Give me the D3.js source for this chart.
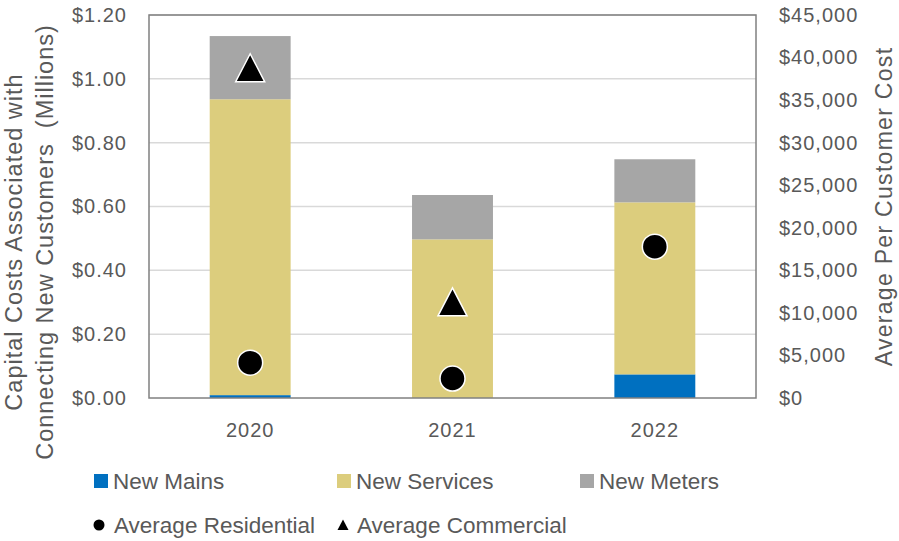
<!DOCTYPE html>
<html>
<head>
<meta charset="utf-8">
<script src="https://cdn.jsdelivr.net/npm/d3@7"></script>
<style>
  html, body { margin: 0; padding: 0; background: #fff; }
  svg { display: block; font-family: "Liberation Sans", Arial, sans-serif; }
  .tick text { fill: #595959; }
</style>
</head>
<body>
<svg id="chart" width="899" height="541"></svg>
<script>
// chart data
const years = ['2020', '2021', '2022'];
const newMains = [0.009, 0, 0.074];
const newServices = [0.927, 0.497, 0.539];
const newMeters = [0.198, 0.139, 0.135];
const avgResidential = [4150, 2290, 17780];
const avgCommercial = [38800, 11300, null];
const leftTicks = [0, 0.2, 0.4, 0.6, 0.8, 1.0, 1.2];
const rightTicks = [0, 5000, 10000, 15000, 20000, 25000, 30000, 35000, 40000, 45000];

const seriesNames = ['New Mains', 'New Services', 'New Meters'];
const seriesColors = ['#0070c0', '#dccd7d', '#a6a6a6'];
const textColor = '#595959';

const margin = {top: 15, right: 143, bottom: 143, left: 149};
const width = 899, height = 541;
const innerW = width - margin.left - margin.right;
const innerH = height - margin.top - margin.bottom;

const svg = d3.select('#chart');
const g = svg.append('g').attr('transform', `translate(${margin.left},${margin.top})`);

const x = d3.scaleBand().domain(years).range([0, innerW])
  .paddingInner(0.6).paddingOuter(0.3);
const y = d3.scaleLinear().domain([0, 1.2]).range([innerH, 0]);
const y2 = d3.scaleLinear().domain([0, 45000]).range([innerH, 0]);

// gridlines
g.append('g').selectAll('line').data(leftTicks.slice(1)).enter()
  .append('line')
  .attr('x1', 0).attr('x2', innerW)
  .attr('y1', d => y(d)).attr('y2', d => y(d))
  .attr('stroke', '#d9d9d9').attr('stroke-width', 1.5);

// stacked bars
const rows = years.map((yr, i) => ({year: yr, 'New Mains': newMains[i],
  'New Services': newServices[i], 'New Meters': newMeters[i]}));
const stack = d3.stack().keys(seriesNames)(rows);
g.append('g').selectAll('g').data(stack).enter()
  .append('g').attr('fill', (d, i) => seriesColors[i])
  .selectAll('rect').data(d => d).enter()
  .append('rect')
  .attr('x', d => x(d.data.year))
  .attr('width', x.bandwidth())
  .attr('y', d => y(d[1]))
  .attr('height', d => Math.max(0, y(d[0]) - y(d[1])));

// plot frame
g.append('rect')
  .attr('width', innerW).attr('height', innerH)
  .attr('fill', 'none').attr('stroke', '#808080').attr('stroke-width', 1.5);

// markers
const triW = 29, triH = 28;
const triPath = d3.line()([[0, -triH / 2], [triW / 2, triH / 2], [-triW / 2, triH / 2]]) + 'Z';
const cx = i => x(years[i]) + x.bandwidth() / 2;

g.append('g').selectAll('path').data(avgCommercial.map((v, i) => ({v, i})).filter(d => d.v != null))
  .enter().append('path')
  .attr('d', triPath)
  .attr('transform', d => `translate(${cx(d.i)},${y2(d.v)})`)
  .attr('fill', '#000').attr('stroke', '#fff').attr('stroke-width', 1.5)
  .attr('stroke-linejoin', 'miter');

g.append('g').selectAll('circle').data(avgResidential.map((v, i) => ({v, i})))
  .enter().append('circle')
  .attr('cx', d => cx(d.i)).attr('cy', d => y2(d.v)).attr('r', 12.5)
  .attr('fill', '#000').attr('stroke', '#fff').attr('stroke-width', 1.5);

// axes
const leftAxis = g.append('g')
  .call(d3.axisLeft(y).tickValues(leftTicks).tickSize(0).tickPadding(22)
    .tickFormat(d => '$' + d3.format('.2f')(d)));
const rightAxis = g.append('g').attr('transform', `translate(${innerW},0)`)
  .call(d3.axisRight(y2).tickValues(rightTicks).tickSize(0).tickPadding(23)
    .tickFormat(d => '$' + d3.format(',')(d)));
const bottomAxis = g.append('g').attr('transform', `translate(0,${innerH})`)
  .call(d3.axisBottom(x).tickSize(0).tickPadding(25));
[leftAxis, rightAxis, bottomAxis].forEach(a => {
  a.select('.domain').remove();
  a.selectAll('text').attr('font-size', 20).attr('letter-spacing', 1)
    .attr('font-family', '"Liberation Sans", Arial, sans-serif').attr('fill', textColor);
});

// axis titles
const titleMid = 242;
svg.append('text')
  .attr('transform', `translate(22,${titleMid}) rotate(-90)`)
  .attr('text-anchor', 'middle').attr('font-size', 23.5).attr('letter-spacing', 1)
  .attr('fill', textColor)
  .text('Capital Costs Associated with');
svg.append('text')
  .attr('transform', `translate(53,${titleMid}) rotate(-90)`)
  .attr('text-anchor', 'middle').attr('font-size', 23.5).attr('letter-spacing', 1)
  .attr('fill', textColor).style('white-space', 'pre')
  .text('Connecting New Customers  (Millions)');
svg.append('text')
  .attr('transform', `translate(892,${(margin.top + margin.top + innerH) / 2}) rotate(-90)`)
  .attr('text-anchor', 'middle').attr('font-size', 23).attr('letter-spacing', 1.3)
  .attr('fill', textColor)
  .text('Average Per Customer Cost');

// legend
const legend = svg.append('g').attr('font-size', 22.5).attr('fill', textColor);
const row1 = [94, 337, 580];
seriesNames.forEach((name, i) => {
  const item = legend.append('g').attr('transform', `translate(${row1[i]},481)`);
  item.append('rect').attr('x', 0).attr('y', -7).attr('width', 14).attr('height', 14)
    .attr('fill', seriesColors[i]);
  item.append('text').attr('x', 19).attr('y', 8).text(name);
});
const resItem = legend.append('g').attr('transform', 'translate(99,525)');
resItem.append('circle').attr('r', 5.5).attr('fill', '#000');
resItem.append('text').attr('x', 15).attr('y', 8).text('Average Residential');
const comItem = legend.append('g').attr('transform', 'translate(343,525)');
comItem.append('path').attr('d', d3.line()([[0, -5.5], [5.5, 5], [-5.5, 5]]) + 'Z').attr('fill', '#000');
comItem.append('text').attr('x', 14).attr('y', 8).text('Average Commercial');
</script>
</body>
</html>
